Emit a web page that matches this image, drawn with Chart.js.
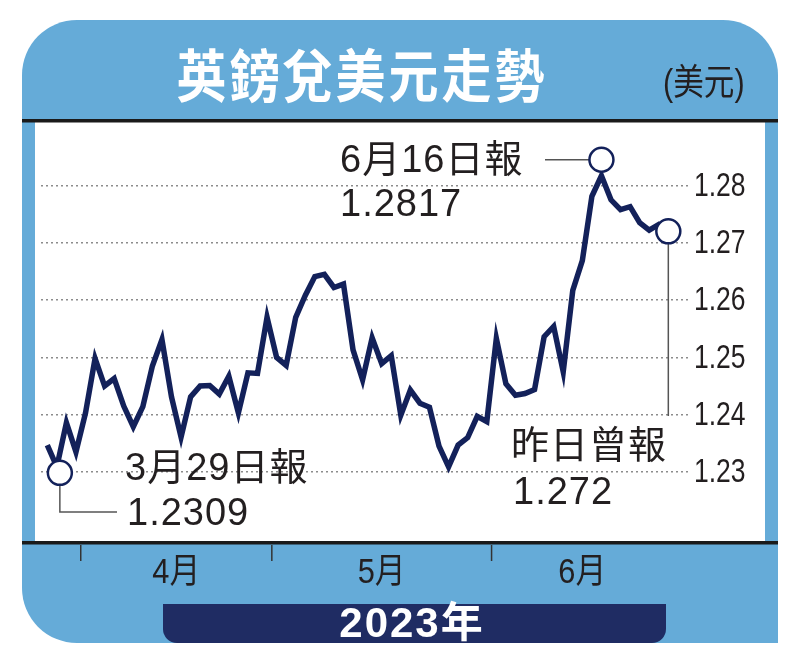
<!DOCTYPE html>
<html>
<head>
<meta charset="utf-8">
<script src="https://cdn.jsdelivr.net/npm/chart.js@4.4.0/dist/chart.umd.min.js"></script>
<style>
body { margin: 0; background: #fff; }
#wrap { width: 800px; height: 670px; }
</style>
</head>
<body>
<div id="wrap"><canvas id="myChart"></canvas></div>
<script>
// trading days, 28 Mar - 27 Jun 2023
var dates = ['3/28','3/29','3/30','3/31',
  '4/3','4/4','4/5','4/6','4/7','4/10','4/11','4/12','4/13','4/14','4/17','4/18','4/19','4/20','4/21','4/24','4/25','4/26','4/27','4/28',
  '5/1','5/2','5/3','5/4','5/5','5/8','5/9','5/10','5/11','5/12','5/15','5/16','5/17','5/18','5/19','5/22','5/23','5/24','5/25','5/26','5/29','5/30','5/31',
  '6/1','6/2','6/5','6/6','6/7','6/8','6/9','6/12','6/13','6/14','6/15','6/16','6/19','6/20','6/21','6/22','6/23','6/26','6/27'];

var rates = [1.2347, 1.2309, 1.2386, 1.2335, 1.2403, 1.2498, 1.2450, 1.2463, 1.2415, 1.2379,
  1.2414, 1.2485, 1.2531, 1.2431, 1.2361, 1.2431, 1.2450, 1.2451, 1.2436, 1.2467,
  1.2403, 1.2473, 1.2472, 1.2570, 1.2500, 1.2486, 1.2570, 1.2608, 1.2641, 1.2645,
  1.2622, 1.2628, 1.2513, 1.2461, 1.2534, 1.2489, 1.2503, 1.2399, 1.2443, 1.2420,
  1.2413, 1.2345, 1.2309, 1.2347, 1.2360, 1.2397, 1.2388, 1.2533, 1.2454, 1.2434,
  1.2437, 1.2444, 1.2536, 1.2554, 1.2475, 1.2617, 1.2669, 1.2781, 1.2817, 1.2775,
  1.2758, 1.2763, 1.2735, 1.2722, 1.2732, 1.2720];

var yTicks = [1.23, 1.24, 1.25, 1.26, 1.27, 1.28];
var monthNames = {4: '4月', 5: '5月', 6: '6月'};
var titleText = '英鎊兌美元走勢';
var unitText = '(美元)';
var yearText = '2023年';
var calloutIdx = [1, 58, 65];
var calloutTitles = ['3月29日報', '6月16日報', '昨日曾報'];
var calloutValues = ['1.2309', '1.2817', '1.272'];

var FONT = '"Liberation Sans", "Noto Sans CJK TC", sans-serif';
var CJK = '"Noto Sans CJK TC", sans-serif';
var INK = '#231f20';

function monthOf(d) { return parseInt(d.split('/')[0]); }

// squeezed text, the print uses a condensed face
function narrowText(ctx, text, x, y, sx) {
  ctx.save();
  ctx.translate(x, y);
  ctx.scale(sx, 1);
  ctx.fillText(text, 0, 0);
  ctx.restore();
}

var frame = {
  id: 'frame',
  beforeDraw: function(chart) {
    var ctx = chart.ctx;
    var xs = chart.scales.x;
    ctx.save();
    ctx.fillStyle = '#fff';
    ctx.fillRect(0, 0, chart.width, chart.height);

    // blue card
    ctx.fillStyle = '#65abd8';
    ctx.beginPath();
    ctx.roundRect(22, 20, 756, 623, [55, 55, 0, 55]);
    ctx.fill();

    // white plot panel and black rules
    ctx.fillStyle = '#fff';
    ctx.fillRect(35, 122, 730, 420);
    ctx.fillStyle = '#1a1a1a';
    ctx.fillRect(22, 119, 756, 3.5);
    ctx.fillRect(22, 541, 756, 3.5);

    // title
    ctx.fillStyle = '#fff';
    ctx.font = 'bold 50px ' + CJK;
    ctx.letterSpacing = '3px';
    ctx.textAlign = 'center';
    ctx.textBaseline = 'middle';
    ctx.save();
    ctx.translate(362, 75);
    ctx.scale(1, 1.14);
    ctx.fillText(titleText, 0, 0);
    ctx.restore();
    ctx.letterSpacing = '0px';

    ctx.fillStyle = INK;
    ctx.font = '36px ' + FONT;
    ctx.textAlign = 'left';
    narrowText(ctx, unitText, 663, 85, 0.85);

    // y labels
    var ys = chart.scales.y;
    ctx.font = '34px ' + FONT;
    ys.ticks.forEach(function(t) {
      narrowText(ctx, t.value.toFixed(2), chart.chartArea.right + 6, ys.getPixelForValue(t.value) + 1, 0.78);
    });

    // month ticks and labels
    ctx.strokeStyle = '#333';
    ctx.lineWidth = 1.5;
    var first = {}, last = {};
    dates.forEach(function(d, i) {
      var m = monthOf(d);
      if (first[m] === undefined) first[m] = i;
      last[m] = i;
      if (i > 0 && m !== monthOf(dates[i - 1])) {
        var x = xs.getPixelForValue(i - 0.5);
        ctx.beginPath();
        ctx.moveTo(x, 545);
        ctx.lineTo(x, 561);
        ctx.stroke();
      }
    });
    ctx.font = '35px ' + FONT;
    ctx.textAlign = 'center';
    Object.keys(monthNames).forEach(function(m) {
      var x = xs.getPixelForValue((first[m] + last[m]) / 2);
      narrowText(ctx, monthNames[m], x, 573, 0.88);
    });

    // year box
    ctx.fillStyle = '#1f2c63';
    ctx.beginPath();
    ctx.roundRect(163, 604, 503, 39, [0, 0, 14, 14]);
    ctx.fill();
    ctx.fillStyle = '#fff';
    ctx.font = 'bold 42px ' + FONT;
    ctx.letterSpacing = '2px';
    ctx.fillText(yearText, 412, 625);
    ctx.letterSpacing = '0px';
    ctx.restore();
  },
  afterDatasetsDraw: function(chart) {
    var ctx = chart.ctx;
    var pts = chart.getDatasetMeta(0).data;
    ctx.save();
    var c = calloutIdx.map(function(i) { return {x: pts[i].x, y: pts[i].y}; });
    c[0].x += 3; c[0].y += 6;
    c[1].y -= 16;

    // leader lines
    ctx.strokeStyle = '#555';
    ctx.lineWidth = 1.5;
    ctx.beginPath();
    ctx.moveTo(c[0].x, c[0].y + 12);
    ctx.lineTo(c[0].x, 512);
    ctx.lineTo(117, 512);
    ctx.moveTo(545, c[1].y);
    ctx.lineTo(c[1].x - 12, c[1].y);
    ctx.moveTo(c[2].x, c[2].y + 12);
    ctx.lineTo(c[2].x, 416);
    ctx.stroke();

    // circles
    ctx.fillStyle = '#fff';
    ctx.strokeStyle = '#13215a';
    ctx.lineWidth = 2.5;
    c.forEach(function(p) {
      ctx.beginPath();
      ctx.arc(p.x, p.y, 12, 0, Math.PI * 2);
      ctx.fill();
      ctx.stroke();
    });

    // texts
    ctx.fillStyle = INK;
    ctx.font = '38px ' + FONT;
    ctx.textAlign = 'left';
    ctx.textBaseline = 'alphabetic';
    ctx.letterSpacing = '1px';
    ctx.fillText(calloutTitles[0], 125, 480);
    ctx.fillText(calloutValues[0], 127, 525);
    ctx.fillText(calloutTitles[1], 340, 172);
    ctx.fillText(calloutValues[1], 340, 216);
    ctx.fillText(calloutTitles[2], 511, 458);
    ctx.fillText(calloutValues[2], 513, 504);
    ctx.restore();
  }
};

var ctx = document.getElementById('myChart').getContext('2d');
var myChart = new Chart(ctx, {
  type: 'line',
  data: {
    labels: dates,
    datasets: [{
      label: 'GBP/USD',
      data: rates.map(function(v, i) { return {x: i, y: v}; }),
      borderColor: '#13215a',
      borderWidth: 5.5,
      pointRadius: 0,
      tension: 0,
      fill: false
    }]
  },
  options: {
    responsive: true,
    maintainAspectRatio: false,
    animation: false,
    layout: { padding: { left: 41, top: 122, right: 0, bottom: 128 } },
    plugins: { legend: { display: false }, tooltip: { enabled: false } },
    scales: {
      x: { type: 'linear', display: false, min: -0.66, max: 67.06 },
      y: {
        position: 'right',
        min: 1.21778,
        max: 1.29108,
        afterBuildTicks: function(scale) {
          scale.ticks = yTicks.map(function(v) { return {value: v}; });
        },
        afterFit: function(scale) { scale.width = 112; },
        grid: { color: '#8c8c8c', lineWidth: 1.5, drawTicks: false },
        border: { display: false, dash: [2, 3] },
        ticks: { display: false }
      }
    }
  },
  plugins: [frame]
});
</script>
</body>
</html>
